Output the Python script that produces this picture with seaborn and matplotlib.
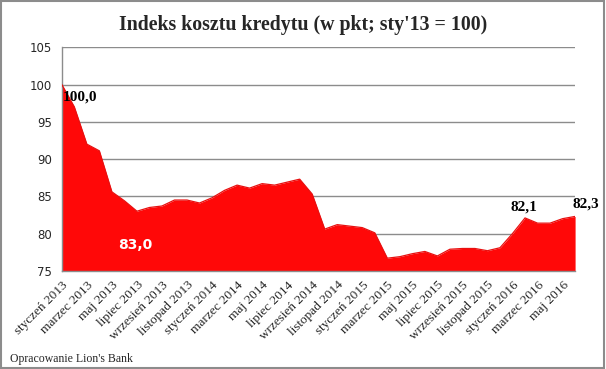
import matplotlib
matplotlib.use("Agg")
import matplotlib.pyplot as plt
import seaborn as sns
import pandas as pd

months = ["styczeń", "luty", "marzec", "kwiecień", "maj", "czerwiec",
          "lipiec", "sierpień", "wrzesień", "październik", "listopad", "grudzień"]
periods = [f"{m} {y}" for y in (2013, 2014, 2015, 2016) for m in months][:42]

index_values = [100.0, 97.0, 92.0, 91.1, 85.6, 84.4, 83.0, 83.5, 83.7, 84.5,
                84.5, 84.1, 84.8, 85.8, 86.5, 86.1, 86.7, 86.5, 86.9, 87.3,
                85.3, 80.6, 81.2, 81.0, 80.8, 80.1, 76.7, 76.9, 77.3, 77.6,
                77.0, 77.9, 78.0, 78.0, 77.7, 78.1, 80.0, 82.1, 81.4, 81.4,
                82.0, 82.3]

df = pd.DataFrame({"okres": periods, "indeks": index_values})
df["pos"] = range(len(df))

sns.set_style("white")
fig = plt.figure(figsize=(6.06, 3.69), dpi=100)
ax = fig.add_axes([0.102, 0.266, 0.847, 0.606])

ax.fill_between(df["pos"], 75, df["indeks"], color="#ff0808", zorder=2, linewidth=0)
sns.lineplot(data=df, x="pos", y="indeks", color="#e81010", linewidth=0.9, ax=ax, zorder=3)

ax.set_xlim(0, len(df) - 1)
ax.set_ylim(75, 105)
ax.set_yticks(range(75, 106, 5))
ax.yaxis.grid(True, color="#8c8c8c", linewidth=1)
ax.set_axisbelow(True)

ticks = list(range(0, len(df), 2))
ax.set_xticks(ticks)
ax.set_xticklabels([periods[i] for i in ticks], rotation=45, ha="right",
                   rotation_mode="anchor", family="Liberation Serif", fontsize=9.5)
for lab in ax.get_yticklabels():
    lab.set_fontsize(8.5)
    lab.set_family("DejaVu Sans")
ax.tick_params(axis="both", direction="out", length=4, color="#8c8c8c", width=1, pad=3)
ax.tick_params(axis="x", pad=2)
ax.set_xlabel("")
ax.set_ylabel("")

for side in ("top", "right"):
    ax.spines[side].set_visible(False)
for side in ("left", "bottom"):
    ax.spines[side].set_color("#8c8c8c")
    ax.spines[side].set_linewidth(1)

# etykiety wartości
ax.annotate("100,0", (0, 100), xytext=(13, -9), textcoords="offset points",
            ha="center", va="center", fontsize=11, fontweight="bold",
            family="Liberation Serif", color="black")
ax.annotate("83,0", (6, 83.0), xytext=(-1, -24), textcoords="offset points",
            ha="center", va="center", fontsize=10, fontweight="bold",
            family="DejaVu Sans", color="white")
ax.annotate("82,1", (37, 82.1), xytext=(-1, 8), textcoords="offset points",
            ha="center", va="center", fontsize=11, fontweight="bold",
            family="Liberation Serif", color="black")
ax.annotate("82,3", (41, 82.3), xytext=(8, 9), textcoords="offset points",
            ha="center", va="center", fontsize=11, fontweight="bold",
            family="Liberation Serif", color="black", annotation_clip=False)

fig.text(0.5, 0.932, "Indeks kosztu kredytu (w pkt; sty'13 = 100)", ha="center",
         va="center", fontsize=14.3, fontweight="bold", family="Liberation Serif")
fig.text(0.016, 0.027, "Opracowanie Lion's Bank", ha="left", va="center",
         fontsize=8.5, family="Liberation Serif")

border = plt.Rectangle((0.001, 0.002), 0.996, 0.995, transform=fig.transFigure,
                       fill=False, edgecolor="#8c8c8c", linewidth=1.5)
fig.patches.append(border)

fig.savefig("out.png", dpi=100)
